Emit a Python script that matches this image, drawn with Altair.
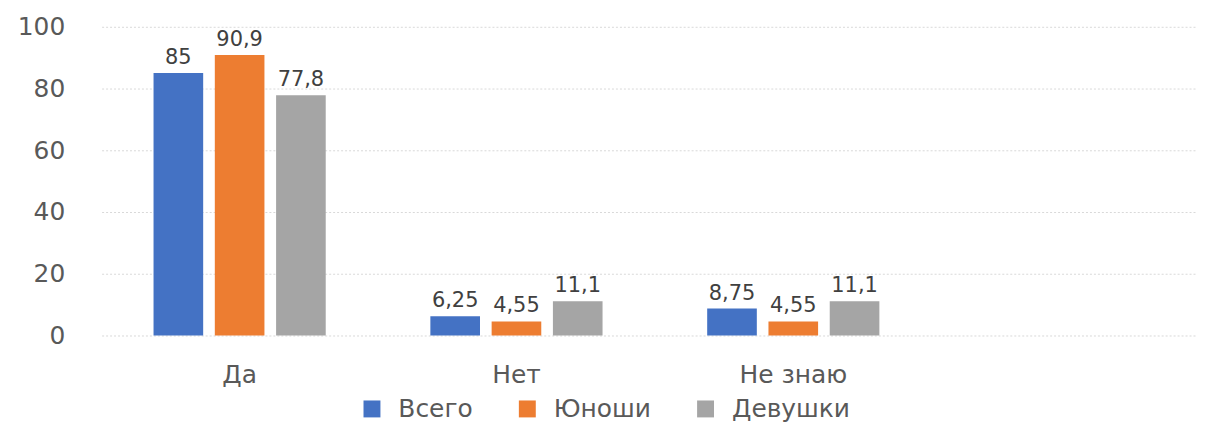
import altair as alt
import pandas as pd

categories = ["Да", "Нет", "Не знаю", " "]
series = ["Всего", "Юноши", "Девушки"]
vals_total = [85, 6.25, 8.75]
vals_boys = [90.9, 4.55, 4.55]
vals_girls = [77.8, 11.1, 11.1]
colors = ["#4472C4", "#ED7D31", "#A5A5A5"]

rows = []
for s, vals in zip(series, [vals_total, vals_boys, vals_girls]):
    for c, v in zip(categories[:3], vals):
        rows.append({"cat": c, "series": s, "value": v,
                     "label": ("%g" % v).replace(".", ",")})
df = pd.DataFrame(rows)

FONT = "DejaVu Sans"
x = alt.X("cat:N", sort=categories,
          scale=alt.Scale(domain=categories, paddingInner=0.378, paddingOuter=0.1675, align=0.56),
          axis=alt.Axis(title=None, labelAngle=0, labelFontSize=25, labelColor="#595959",
                        labelPadding=27, ticks=False, domain=False, grid=False, labelFont=FONT))
xo = alt.XOffset("series:N", sort=series, scale=alt.Scale(domain=series, paddingInner=0.19, paddingOuter=0))
y = alt.Y("value:Q", scale=alt.Scale(domain=[0, 100]),
          axis=alt.Axis(title=None, values=[0, 20, 40, 60, 80, 100], labelFontSize=25, labelColor="#595959",
                        labelPadding=37, ticks=False, domain=False, gridColor="#D9D9D9",
                        gridDash=[2, 2], labelFont=FONT))

bars = alt.Chart(df).mark_bar().encode(
    x=x, xOffset=xo, y=y,
    color=alt.Color("series:N", sort=series, scale=alt.Scale(domain=series, range=colors),
                    legend=alt.Legend(title=None, orient="none", legendX=259, legendY=371,
                                      direction="horizontal", symbolType="square", symbolSize=289,
                                      labelFontSize=25, labelColor="#595959", columnPadding=42,
                                      labelOffset=14, labelFont=FONT, symbolStrokeWidth=0)),
)
text = alt.Chart(df).mark_text(baseline="alphabetic", dy=-9, fontSize=21, color="#404040", font=FONT).encode(
    x=alt.X("cat:N", sort=categories), xOffset=alt.XOffset("series:N", sort=series), y="value:Q", text="label:N"
)

chart = (bars + text).properties(
    width=1100, height=310, background="white",
    padding={"left": 9, "top": 6, "right": 0, "bottom": 0}
).configure_view(stroke=None)

chart.save("out.html", embed_options={"renderer": "svg", "actions": False})
